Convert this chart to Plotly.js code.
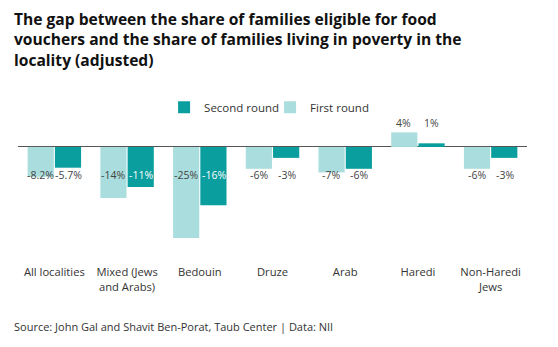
<!DOCTYPE html>
<html>
<head>
<meta charset="utf-8">
<script src="https://cdn.plot.ly/plotly-3.0.1.min.js"></script>
<style>html,body{margin:0;padding:0;background:#fff;}#chart{width:558px;height:347px;}</style>
</head>
<body>
<div id="chart"></div>
<script>
var categories = ["All localities", "Mixed (Jews<br>and Arabs)", "Bedouin", "Druze", "Arab", "Haredi", "Non-Haredi<br>Jews"];
var firstRound = [-8.2, -14, -25, -6, -7, 4, -6];
var secondRound = [-5.7, -11, -16, -3, -6, 1, -3];
var firstLabels = ["-8.2%", "-14%", "-25%", "-6%", "-7%", "4%", "-6%"];
var secondLabels = ["-5.7%", "-11%", "-16%", "-3%", "-6%", "1%", "-3%"];

var lightColor = "#aadddd";
var darkColor = "#0a9e9e";
var fontFam = "Open Sans, Noto Sans, sans-serif";

var traces = [
  {type: "bar", name: "First round", x: categories, y: firstRound, marker: {color: lightColor}, hoverinfo: "skip"},
  {type: "bar", name: "Second round", x: categories, y: secondRound, marker: {color: darkColor}, hoverinfo: "skip"}
];

var annotations = [];
function addLabels(vals, labels, shift, isDark) {
  for (var i = 0; i < vals.length; i++) {
    var neg = vals[i] < 0;
    var inside = isDark && neg && vals[i] <= -10;
    annotations.push({
      x: categories[i], y: 0, xref: "x", yref: "y",
      text: labels[i], showarrow: false,
      xshift: shift, yshift: neg ? -28 : 24,
      font: {family: fontFam, size: 10.5, color: inside ? "#ffffff" : "#444444"}
    });
  }
}
addLabels(firstRound, firstLabels, -14, false);
addLabels(secondRound, secondLabels, 14, true);

annotations.push({
  xref: "paper", yref: "paper", x: -0.012, y: 1.58, xanchor: "left", yanchor: "top", align: "left",
  text: "<b>The gap between the share of families eligible for food<br>vouchers and the share of families living in poverty in the<br>locality (adjusted)</b>",
  showarrow: false, font: {family: fontFam, size: 15.6, color: "#111111"}
});

annotations.push({
  xref: "paper", yref: "paper", x: -0.012, y: -0.40, xanchor: "left", yanchor: "middle",
  text: "Source: John Gal and Shavit Ben-Porat, Taub Center | Data: NII",
  showarrow: false, font: {family: fontFam, size: 11, color: "#333333"}
});

var layout = {
  width: 558, height: 347,
  margin: {l: 18, r: 31, t: 100, b: 85},
  paper_bgcolor: "#ffffff", plot_bgcolor: "#ffffff",
  barmode: "group", bargap: 0.25, bargroupgap: 0.04,
  showlegend: true,
  legend: {
    orientation: "h", traceorder: "reversed",
    x: 0.287, xanchor: "left", y: 0.955, yanchor: "middle",
    font: {family: fontFam, size: 11.5, color: "#333333"},
    entrywidth: 61, entrywidthmode: "pixels",
    bgcolor: "rgba(0,0,0,0)"
  },
  xaxis: {
    showline: false, showgrid: false, zeroline: false, ticks: "",
    tickfont: {family: fontFam, size: 11.2, color: "#333333"},
    ticklabelstandoff: 2,
    automargin: false
  },
  yaxis: {
    range: [-31.6, 12.9], showgrid: false, showticklabels: false, ticks: "",
    zeroline: true, zerolinecolor: "#555555", zerolinewidth: 1, showline: false
  },
  annotations: annotations
};

Plotly.newPlot("chart", traces, layout, {displayModeBar: false, staticPlot: true});
</script>
</body>
</html>
